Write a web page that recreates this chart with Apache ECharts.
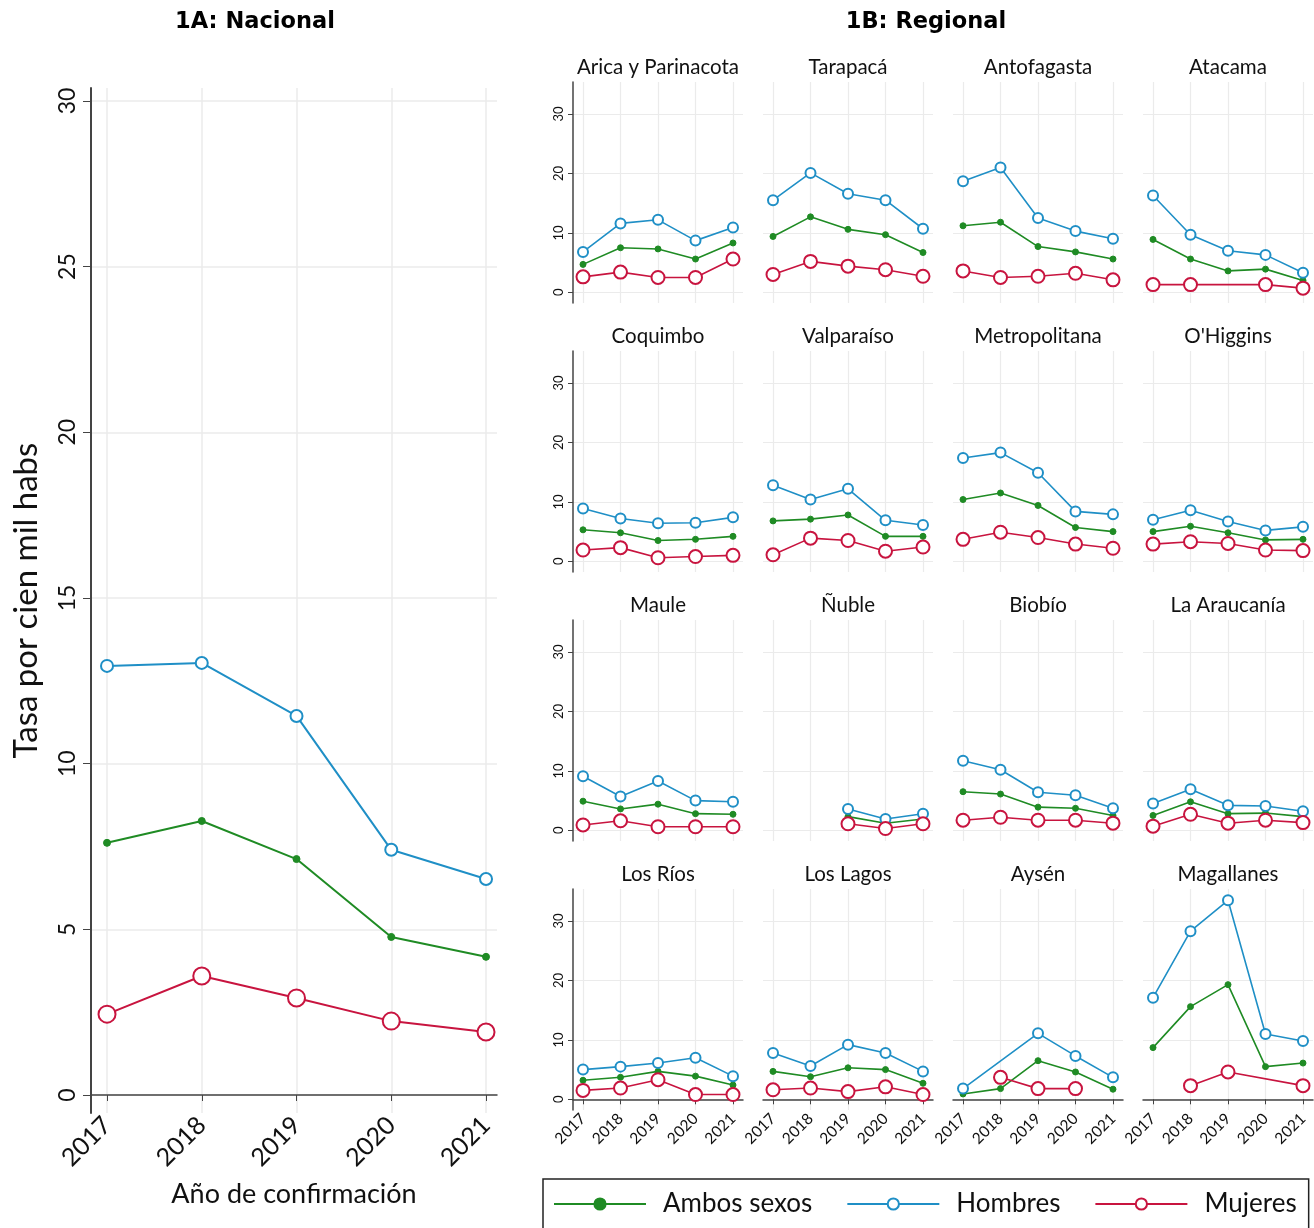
<!DOCTYPE html>
<html>
<head>
<meta charset="utf-8">
<script src="https://cdn.jsdelivr.net/npm/echarts@6/dist/echarts.min.js"></script>
<style>
  html, body { margin: 0; background: #fff; }
  #chart { width: 1314px; height: 1228px; }
</style>
</head>
<body>
<div id="chart"></div>
<script>
// datos
const years = [2017, 2018, 2019, 2020, 2021];
const yTicksNac = [0, 5, 10, 15, 20, 25, 30];
const yTicksReg = [0, 10, 20, 30];

const nacAmbos = [7.61, 8.27, 7.12, 4.77, 4.17];
const nacHombres = [12.95, 13.04, 11.44, 7.40, 6.52];
const nacMujeres = [2.44, 3.59, 2.93, 2.23, 1.90];

const regiones = ['Arica y Parinacota', 'Tarapacá', 'Antofagasta', 'Atacama',
  'Coquimbo', 'Valparaíso', 'Metropolitana', "O'Higgins",
  'Maule', 'Ñuble', 'Biobío', 'La Araucanía',
  'Los Ríos', 'Los Lagos', 'Aysén', 'Magallanes'];

const regAmbos = [
  [4.7, 7.5, 7.3, 5.6, 8.3],
  [9.4, 12.7, 10.6, 9.7, 6.7],
  [11.2, 11.8, 7.7, 6.8, 5.6],
  [8.9, 5.6, 3.6, 3.9, 2.0],
  [5.3, 4.8, 3.5, 3.7, 4.2],
  [6.8, 7.1, 7.8, 4.2, 4.2],
  [10.4, 11.5, 9.4, 5.7, 5.0],
  [5.0, 5.9, 4.8, 3.6, 3.7],
  [4.9, 3.6, 4.4, 2.8, 2.7],
  [null, null, 2.3, 1.2, 1.9],
  [6.5, 6.1, 3.9, 3.7, 2.5],
  [2.5, 4.8, 2.8, 2.9, 2.3],
  [3.2, 3.7, 4.7, 3.9, 2.4],
  [4.7, 3.8, 5.3, 5.0, 2.7],
  [0.9, 1.8, 6.5, 4.6, 1.7],
  [8.7, 15.6, 19.3, 5.5, 6.1]
];
const regHombres = [
  [6.8, 11.6, 12.2, 8.7, 10.9],
  [15.5, 20.1, 16.6, 15.5, 10.7],
  [18.7, 21.0, 12.5, 10.3, 9.0],
  [16.3, 9.7, 7.0, 6.3, 3.3],
  [8.9, 7.2, 6.4, 6.5, 7.4],
  [12.8, 10.4, 12.2, 6.9, 6.1],
  [17.4, 18.3, 14.9, 8.4, 7.9],
  [7.0, 8.6, 6.7, 5.2, 5.8],
  [9.1, 5.7, 8.3, 5.0, 4.8],
  [null, null, 3.6, 1.9, 2.8],
  [11.7, 10.2, 6.4, 5.9, 3.7],
  [4.5, 6.9, 4.2, 4.1, 3.2],
  [5.0, 5.5, 6.1, 7.0, 3.9],
  [7.8, 5.6, 9.2, 7.8, 4.7],
  [1.8, null, 11.1, 7.3, 3.7],
  [17.1, 28.3, 33.5, 11.0, 9.8]
];
const regMujeres = [
  [2.6, 3.4, 2.5, 2.5, 5.6],
  [3.0, 5.2, 4.4, 3.8, 2.7],
  [3.6, 2.5, 2.7, 3.2, 2.1],
  [1.3, 1.3, null, 1.3, 0.7],
  [1.9, 2.3, 0.6, 0.8, 1.0],
  [1.1, 3.9, 3.5, 1.7, 2.4],
  [3.7, 4.9, 4.0, 2.9, 2.2],
  [2.9, 3.3, 3.0, 1.9, 1.8],
  [0.9, 1.6, 0.6, 0.6, 0.6],
  [null, null, 1.1, 0.3, 1.1],
  [1.7, 2.2, 1.7, 1.7, 1.2],
  [0.7, 2.7, 1.2, 1.7, 1.3],
  [1.5, 1.9, 3.3, 0.8, 0.8],
  [1.6, 1.9, 1.3, 2.1, 0.8],
  [null, 3.7, 1.8, 1.8, null],
  [null, 2.3, 4.6, null, 2.3]
];

const FONT = 'Lato, "Noto Sans", sans-serif';
const TITLE_FONT = '"DejaVu Sans", sans-serif';
const GRID_C = '#ebebeb';
const AXIS_C = '#444';
const kinds = [
  { name: 'Ambos sexos', color: '#1f8b24', symbol: 'circle', sN: 7, sR: 6 },
  { name: 'Hombres', color: '#1f8fc6', symbol: 'emptyCircle', sN: 12, sR: 10 },
  { name: 'Mujeres', color: '#c8143f', symbol: 'emptyCircle', sN: 17, sR: 13 }
];
const yearFmt = v => String(Math.round(v));

function pts(vals) {
  return years.map((y, i) => [y, vals[i]]).filter(p => p[1] !== null);
}

const grid = [], xAxis = [], yAxis = [], series = [], graphic = [];

// 1A nacional
grid.push({ left: 91, top: 88, width: 406, height: 1025 });
xAxis.push({
  type: 'value', gridIndex: 0, min: 2016.831, max: 2021.116,
  axisLine: { show: true, lineStyle: { color: AXIS_C, width: 1.5 } },
  axisTick: { show: true, length: 6, customValues: years, lineStyle: { color: AXIS_C } },
  axisLabel: { customValues: years, formatter: yearFmt, rotate: 45, fontSize: 25, margin: 8, color: '#111', fontFamily: FONT },
  splitLine: { show: true, lineStyle: { color: GRID_C, width: 1.5 } },
  name: 'Año de confirmación', nameLocation: 'middle', nameGap: 68,
  nameTextStyle: { fontSize: 27, color: '#111', fontFamily: FONT }
});
yAxis.push({
  type: 'value', gridIndex: 0, min: -0.543, max: 30.39,
  axisLine: { show: true, lineStyle: { color: AXIS_C, width: 2 } },
  axisTick: { show: true, length: 8, customValues: yTicksNac, lineStyle: { color: AXIS_C } },
  axisLabel: { customValues: yTicksNac, rotate: 90, fontSize: 23, margin: 12, color: '#111', fontFamily: FONT },
  splitLine: { show: true, lineStyle: { color: GRID_C, width: 1.5 } },
  name: 'Tasa por cien mil habs', nameLocation: 'middle', nameGap: 48,
  nameTextStyle: { fontSize: 33, color: '#111', fontFamily: FONT }
});
[nacAmbos, nacHombres, nacMujeres].forEach((vals, k) => {
  const kd = kinds[k];
  series.push({
    type: 'line', name: kd.name, xAxisIndex: 0, yAxisIndex: 0,
    data: pts(vals), symbol: kd.symbol, symbolSize: kd.sN,
    lineStyle: { color: kd.color, width: 2 },
    itemStyle: { color: kd.color, borderColor: kd.color, borderWidth: k === 0 ? 1 : 2.2 }
  });
});

// 1B regional, 4x4
regiones.forEach((reg, i) => {
  const col = i % 4, row = Math.floor(i / 4);
  const gi = i + 1;
  const left = 573 + 190 * col, top = 82 + 269 * row;
  const last = row === 3, first = col === 0;
  grid.push({ left: left, top: top, width: 170, height: 221 });
  xAxis.push({
    type: 'value', gridIndex: gi, min: 2016.733, max: 2021.267,
    axisLine: { show: last, lineStyle: { color: AXIS_C, width: 1.5 } },
    axisTick: { show: last, length: 5, customValues: years, lineStyle: { color: AXIS_C } },
    axisLabel: { show: last, customValues: years, formatter: yearFmt, rotate: 45, fontSize: 15.5, margin: 6, color: '#111', fontFamily: FONT },
    splitLine: { show: true, lineStyle: { color: GRID_C, width: 1.2 } }
  });
  yAxis.push({
    type: 'value', gridIndex: gi, min: -1.8, max: 35.4,
    axisLine: { show: first, lineStyle: { color: AXIS_C, width: 1.5 } },
    axisTick: { show: first, length: 5, customValues: yTicksReg, lineStyle: { color: AXIS_C } },
    axisLabel: { show: first, customValues: yTicksReg, rotate: 90, fontSize: 13, margin: 8, color: '#111', fontFamily: FONT },
    splitLine: { show: true, lineStyle: { color: GRID_C, width: 1.2 } }
  });
  [regAmbos[i], regHombres[i], regMujeres[i]].forEach((vals, k) => {
    const kd = kinds[k];
    series.push({
      type: 'line', name: kd.name, xAxisIndex: gi, yAxisIndex: gi,
      data: pts(vals), symbol: kd.symbol, symbolSize: kd.sR,
      lineStyle: { color: kd.color, width: 1.6 },
      itemStyle: { color: kd.color, borderColor: kd.color, borderWidth: k === 0 ? 1 : 2 }
    });
  });
  graphic.push({
    type: 'text', x: left + 85, y: top - 15,
    style: { text: reg, fontSize: 20.5, fontFamily: FONT, fill: '#111', align: 'center', verticalAlign: 'middle' }
  });
});

graphic.push({
  type: 'text', x: 255, y: 22,
  style: { text: '1A: Nacional', fontSize: 22.5, fontWeight: 'bold', fontFamily: TITLE_FONT, fill: '#000', align: 'center', verticalAlign: 'middle' }
});
graphic.push({
  type: 'text', x: 926, y: 22,
  style: { text: '1B: Regional', fontSize: 22.5, fontWeight: 'bold', fontFamily: TITLE_FONT, fill: '#000', align: 'center', verticalAlign: 'middle' }
});

const chart = echarts.init(document.getElementById('chart'), null, { renderer: 'canvas' });
chart.setOption({
  animation: false,
  backgroundColor: '#fff',
  grid: grid,
  xAxis: xAxis,
  yAxis: yAxis,
  series: series,
  graphic: graphic,
  legend: {
    data: kinds.map(k => k.name),
    left: 543, top: 1179, width: 775,
    orient: 'horizontal',
    itemWidth: 92, itemHeight: 14, itemGap: 34,
    selectedMode: false,
    borderColor: '#222', borderWidth: 1.5,
    padding: [12, 12, 30, 10],
    textStyle: { fontSize: 26, color: '#111', fontFamily: FONT, padding: [0, 0, 0, 12] }
  }
});
</script>
</body>
</html>
